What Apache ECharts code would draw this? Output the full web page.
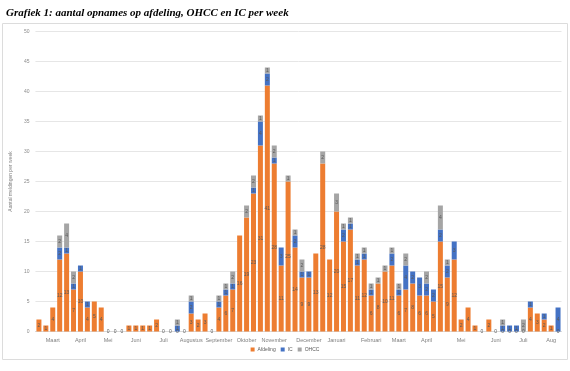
<!DOCTYPE html>
<html><head><meta charset="utf-8">
<script src="https://cdn.jsdelivr.net/npm/echarts@6/dist/echarts.min.js"></script>
<style>html,body{margin:0;padding:0;background:#fff}#c{width:570px;height:371px}</style>
</head><body><div id="c"></div>
<script>
// 76 weeks, March 2020 - August 2021
const afdeling = [2,1,4,12,13,7,10,4,5,4, 0,0,0,1,1,1,1,2,0,0, 0,0,3,2,3,0,4,6,7,16, 19,23,31,41,28,11,25,14,9,9, 13,28,12,20,15,17,11,12,6,8, 10,11,6,7,8,6,6,5,15,9, 12,2,4,1,0,2,0,0,0,0, 0,4,3,2,1,0];
const ic       = [0,0,0,2,1,1,1,1,0,0, 0,0,0,0,0,0,0,0,0,0, 1,0,2,0,0,0,1,1,1,0, 0,1,4,2,1,3,0,2,1,1, 0,0,0,0,2,1,1,1,1,0, 0,2,1,4,2,3,2,2,2,2, 3,0,0,0,0,0,0,1,1,1, 0,1,0,1,0,4];
const ohcc     = [0,0,0,2,4,2,0,0,0,0, 0,0,0,0,0,0,0,0,0,0, 1,0,1,0,0,0,1,1,2,0, 2,2,1,1,2,0,1,1,2,0, 0,2,0,3,1,1,1,1,1,1, 1,1,1,2,0,0,2,0,4,1, 0,0,0,0,0,0,0,1,0,0, 2,0,0,0,0,0];
const monthTickIndex = [2,6,10,14,18,22,26,30,34,39,43,48,52,56,61,66,70,74];
const monthTickName  = ['Maart','April','Mei','Juni','Juli','Augustus','September','Oktober','November','December','Januari','Februari','Maart','April','Mei','Juni','Juli','Aug'];
const yTicks = [0,5,10,15,20,25,30,35,40,45,50];
const seriesNames = ['Afdeling','IC','OHCC'];

const weeks = afdeling.map((_, i) => 'w' + (i + 1));
const tickMap = {};
monthTickIndex.forEach((idx, k) => { tickMap[idx] = monthTickName[k]; });

const chart = echarts.init(document.getElementById('c'), null, {renderer: 'canvas'});
const labelStyle = (showZero) => ({
  show: true, position: 'inside', fontSize: 5, color: '#5a5a5a', fontFamily: 'Liberation Sans',
  formatter: p => (showZero || p.value > 0) ? String(p.value) : ''
});
const colors = ['#ED7D31', '#4472C4', '#A5A5A5'];
const dataSets = [afdeling, ic, ohcc];

chart.setOption({
  animation: false,
  title: {
    text: 'Grafiek 1: aantal opnames op afdeling, OHCC en IC per week',
    left: 1, top: 3,
    textStyle: {fontFamily: 'Liberation Serif', fontStyle: 'italic', fontWeight: 'bold', fontSize: 11, color: '#000'}
  },
  graphic: [{
    type: 'rect', shape: {x: 2.5, y: 23.5, width: 565, height: 336},
    style: {fill: 'none', stroke: '#dcdcdc', lineWidth: 1}, silent: true, z: -1
  }],
  legend: {
    data: seriesNames, bottom: 14, left: 'center',
    itemWidth: 4, itemHeight: 4, itemGap: 5, icon: 'rect',
    textStyle: {fontSize: 5, color: '#595959', fontFamily: 'Liberation Sans', padding: [0, 0, 0, -2]}
  },
  grid: {left: 24, right: 8.5, top: 31.5, bottom: 39.5, containLabel: false},
  xAxis: {
    type: 'category', data: weeks,
    axisLine: {lineStyle: {color: '#d9d9d9'}},
    axisTick: {show: false},
    axisLabel: {
      interval: (i) => tickMap[i] !== undefined,
      formatter: (v, i) => tickMap[i] || '',
      fontSize: 5.5, color: '#7f7f7f', fontFamily: 'Liberation Sans', margin: 6
    }
  },
  yAxis: {
    type: 'value', min: yTicks[0], max: yTicks[yTicks.length - 1], interval: 5,
    name: 'Aantal meldingen per week', nameLocation: 'middle', nameGap: 15, nameRotate: 90,
    nameTextStyle: {fontSize: 5, color: '#7f7f7f', fontFamily: 'Liberation Sans'},
    axisLine: {show: false}, axisTick: {show: false},
    axisLabel: {fontSize: 5, color: '#8c8c8c', fontFamily: 'Liberation Sans', margin: 6},
    splitLine: {lineStyle: {color: '#e6e6e6', width: 1}}
  },
  series: dataSets.map((d, k) => ({
    name: seriesNames[k], type: 'bar', stack: 'total', data: d,
    barWidth: 5, itemStyle: {color: colors[k]},
    label: labelStyle(k === 0)
  }))
});
</script></body></html>
